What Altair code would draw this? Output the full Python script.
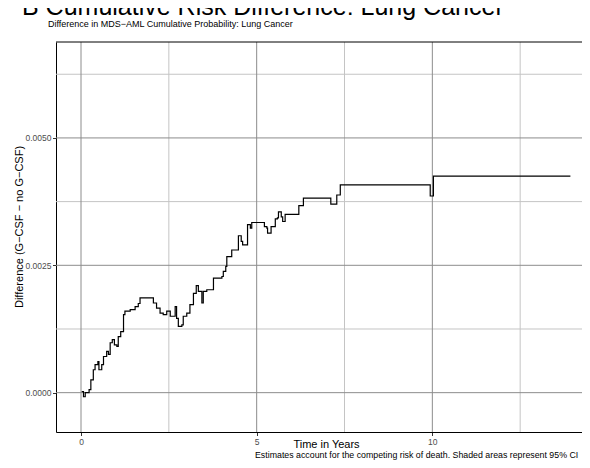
import altair as alt
import pandas as pd

# Step points of the cumulative risk difference (start time of each step, value)
times = [0.02, 0.07, 0.12, 0.23, 0.28, 0.35, 0.40, 0.48, 0.51, 0.59, 0.64, 0.73, 0.78,
         0.83, 0.89, 0.95, 1.02, 1.06, 1.13, 1.21, 1.25, 1.40, 1.54, 1.63, 1.68, 2.06,
         2.15, 2.25, 2.34, 2.44, 2.54, 2.68, 2.72, 2.77, 2.87, 2.91, 3.01, 3.10, 3.20,
         3.28, 3.34, 3.44, 3.48, 3.58, 3.77, 4.01, 4.05, 4.12, 4.15, 4.29, 4.48, 4.56,
         4.60, 4.74, 4.82, 4.86, 5.22, 5.29, 5.31, 5.41, 5.53, 5.59, 5.62, 5.70, 5.74,
         5.81, 6.20, 6.33, 7.11, 7.28, 7.38, 9.94, 10.03, 13.93]
diff_values = [0.00002, -0.00008, 0.0, 0.00006, 0.00025, 0.00045, 0.00055, 0.00061,
               0.00045, 0.00055, 0.00071, 0.00081, 0.00075, 0.00098, 0.00104, 0.00094,
               0.00091, 0.0011, 0.0012, 0.00153, 0.0016, 0.00163, 0.00169, 0.00175,
               0.00186, 0.00176, 0.00166, 0.00156, 0.00153, 0.0016, 0.0015, 0.00169,
               0.00146, 0.0013, 0.00133, 0.0015, 0.00156, 0.00173, 0.00195, 0.0021,
               0.00199, 0.00176, 0.00199, 0.00202, 0.00225, 0.00228, 0.00238, 0.00248,
               0.00267, 0.0028, 0.00308, 0.00297, 0.0029, 0.0033, 0.00323, 0.00334,
               0.00326, 0.00323, 0.00313, 0.00326, 0.00341, 0.00343, 0.00355, 0.00345,
               0.00336, 0.0035, 0.00367, 0.00382, 0.0037, 0.00388, 0.00408, 0.00386,
               0.00425, 0.00425]

x_major = [0, 5, 10]
x_minor = [2.5, 7.5, 12.5]
y_major = [0.0, 0.0025, 0.005]
y_minor = [0.00125, 0.00375, 0.00625]

title_text = "B Cumulative Risk Difference: Lung Cancer"
subtitle_text = "Difference in MDS\u2212AML Cumulative Probability: Lung Cancer"
x_title = "Time in Years"
y_title = "Difference (G\u2212CSF \u2212 no G\u2212CSF)"
caption_text = ("Estimates account for the competing risk of death.  "
                "Shaded areas represent 95% CI")

FONT = "Liberation Sans"
W, H = 526, 390
xs = alt.Scale(domain=[-0.712, 14.26], nice=False, zero=False)
ys = alt.Scale(domain=[-0.000772, 0.006883], nice=False, zero=False)

x_axis = alt.Axis(values=x_major, grid=False, title=None, labelFontSize=8.5,
                  labelPadding=1.5, tickSize=3.5)
y_axis = alt.Axis(values=y_major, format=".4f", grid=False, title=None,
                  labelFontSize=8.5, labelPadding=1.5, tickSize=3.5)

MAJOR = "#8c8c8c"
MINOR = "#c4c4c4"

v_minor = alt.Chart(pd.DataFrame({"x": x_minor})).mark_rule(color=MINOR, strokeWidth=1).encode(
    x=alt.X("x:Q", scale=xs, axis=x_axis), y=alt.value(0), y2=alt.value(H))
v_major = alt.Chart(pd.DataFrame({"x": x_major})).mark_rule(color=MAJOR, strokeWidth=1).encode(
    x=alt.X("x:Q", scale=xs, axis=x_axis), y=alt.value(0), y2=alt.value(H))
h_minor = alt.Chart(pd.DataFrame({"y": y_minor})).mark_rule(color=MINOR, strokeWidth=1).encode(
    y=alt.Y("y:Q", scale=ys, axis=y_axis), x=alt.value(0), x2=alt.value(W))
h_major = alt.Chart(pd.DataFrame({"y": y_major})).mark_rule(color=MAJOR, strokeWidth=1).encode(
    y=alt.Y("y:Q", scale=ys, axis=y_axis), x=alt.value(0), x2=alt.value(W))

df = pd.DataFrame({"t": times, "v": diff_values})
line = alt.Chart(df).mark_line(interpolate="step-after", color="black", strokeWidth=1.2).encode(
    x=alt.X("t:Q", scale=xs, axis=x_axis),
    y=alt.Y("v:Q", scale=ys, axis=y_axis),
)

one = pd.DataFrame({"a": [0]})
top_border = alt.Chart(one).mark_rule(color="black", strokeWidth=1).encode(
    x=alt.value(0), x2=alt.value(W), y=alt.value(0))


def label(text, x, y, size, align="left", baseline="alphabetic", angle=0, color="black"):
    return alt.Chart(one).mark_text(
        text=text, font=FONT, fontSize=size, align=align, baseline=baseline,
        angle=angle, color=color).encode(x=alt.value(x), y=alt.value(y))


title = label(title_text, -34, -27, 25)
subtitle = label(subtitle_text, -8, -15.5, 9)
xt = label(x_title, 270.5, 405.5, 11, align="center")
yt = label(y_title, -36, 185, 11, align="center", baseline="middle", angle=270)
cap = label(caption_text, 199, 416.3, 8.8)

chart = alt.layer(
    v_minor, h_minor, v_major, h_major, line, top_border,
    title, subtitle, xt, yt, cap
).properties(
    width=W, height=H,
    padding={"left": 48, "top": 34, "right": 0, "bottom": 28},
    autosize=alt.AutoSizeParams(type="none"),
    background="white",
).configure_view(stroke=None).configure_axis(
    domainColor="black", domainWidth=1, tickColor="#333333", labelColor="#4d4d4d",
    labelFont=FONT,
)

chart.save("out.html", embed_options={"renderer": "svg", "actions": False})
